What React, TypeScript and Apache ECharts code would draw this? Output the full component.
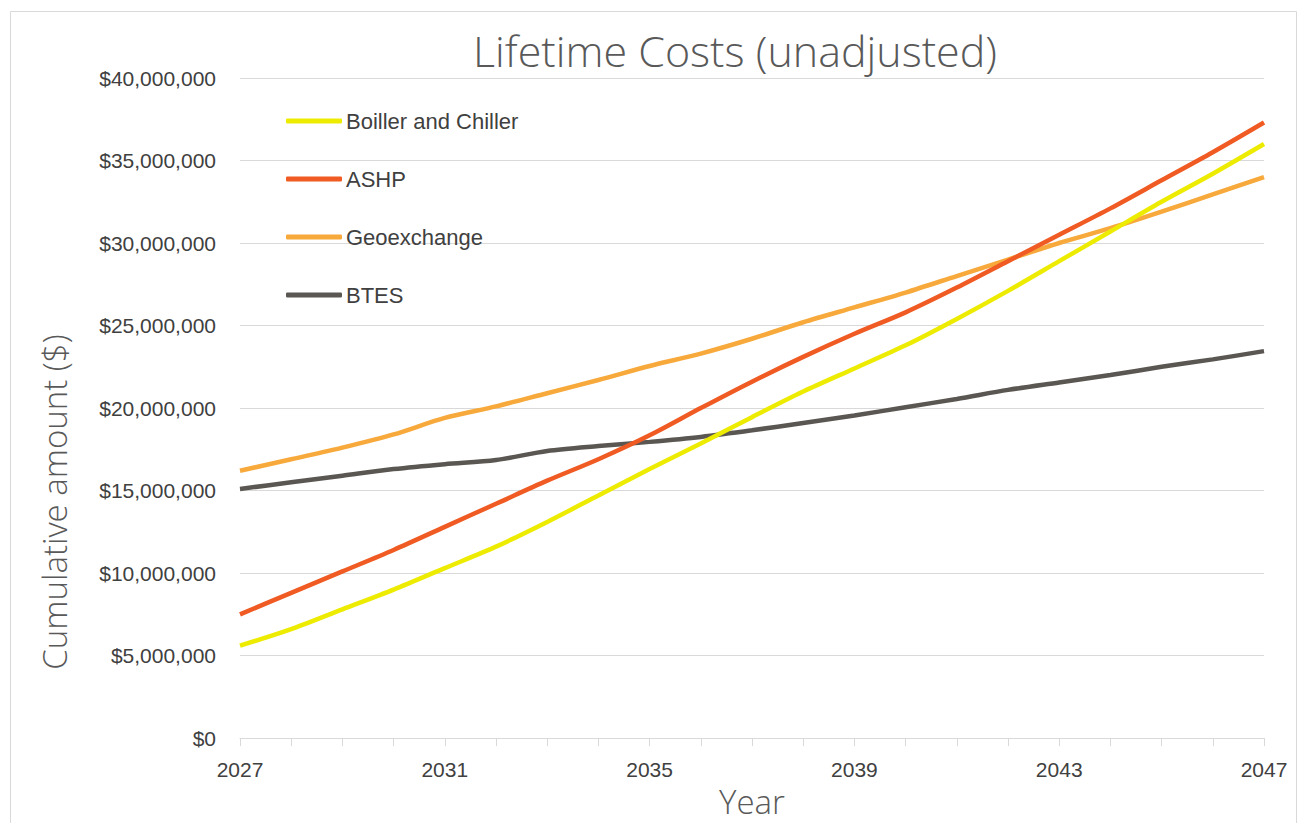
import React, { useEffect, useRef } from "react";
import * as echarts from "echarts";

const years = ["2027","2028","2029","2030","2031","2032","2033","2034","2035","2036","2037","2038","2039","2040","2041","2042","2043","2044","2045","2046","2047"];
const boilerChiller = [5.6, 6.6, 7.8, 9.0, 10.3, 11.6, 13.1, 14.7, 16.3, 17.85, 19.45, 21.0, 22.4, 23.8, 25.4, 27.1, 28.9, 30.7, 32.5, 34.2, 36.0];
const ashp = [7.5, 8.8, 10.1, 11.4, 12.8, 14.2, 15.6, 16.9, 18.35, 20.0, 21.6, 23.1, 24.5, 25.8, 27.3, 28.9, 30.5, 32.1, 33.8, 35.5, 37.3];
const geoexchange = [16.2, 16.9, 17.6, 18.4, 19.4, 20.1, 20.9, 21.7, 22.55, 23.3, 24.2, 25.2, 26.1, 27.0, 28.0, 29.0, 30.0, 30.9, 31.9, 32.95, 34.0];
const btes = [15.1, 15.5, 15.9, 16.3, 16.6, 16.85, 17.4, 17.7, 17.95, 18.25, 18.65, 19.1, 19.55, 20.05, 20.55, 21.1, 21.55, 22.0, 22.5, 22.95, 23.45];
const seriesNames = ["Boiller and Chiller", "ASHP", "Geoexchange", "BTES"];
const seriesColors = ["#EDEB00", "#F05A23", "#F7A93B", "#5A5753"];

const M = 1000000;

export default function App() {
  const ref = useRef<HTMLDivElement>(null);
  useEffect(() => {
    if (!ref.current) return;
    const chart = echarts.init(ref.current, null, { renderer: "svg" });
    const labelFont = "'Liberation Sans', Arial, sans-serif";
    const lightFont = "'Open Sans', Lato, sans-serif";
    const dataSets = [boilerChiller, ashp, geoexchange, btes];
    chart.setOption({
      animation: false,
      backgroundColor: "#ffffff",
      graphic: [
        {
          type: "rect",
          shape: { x: 10.5, y: 11.5, width: 1286, height: 830 },
          style: { fill: "none", stroke: "#d9d9d9", lineWidth: 1 },
          silent: true,
        },
        {
          type: "text",
          x: 735,
          y: 50,
          style: {
            text: "Lifetime Costs (unadjusted)",
            fontFamily: lightFont,
            fontWeight: 300,
            fontSize: 43,
            fill: "#595959",
            textAlign: "center",
            textVerticalAlign: "middle",
          },
        },
        {
          type: "text",
          x: 54,
          y: 502,
          rotation: Math.PI / 2,
          style: {
            text: "Cumulative amount ($)",
            fontFamily: lightFont,
            fontWeight: 300,
            fontSize: 33,
            fill: "#595959",
            textAlign: "center",
            textVerticalAlign: "middle",
          },
        },
      ],
      legend: {
        orient: "vertical",
        left: 281,
        top: 105,
        itemGap: 36,
        itemWidth: 56,
        itemHeight: 5,
        icon: "roundRect",
        data: seriesNames,
        textStyle: { fontFamily: labelFont, fontSize: 22, lineHeight: 22, color: "#404040", padding: [0, 0, 0, -1] },
      },
      grid: { left: 240, right: 42, top: 78, bottom: 76, containLabel: false },
      xAxis: {
        type: "category",
        data: years,
        boundaryGap: false,
        name: "Year",
        nameLocation: "middle",
        nameGap: 44,
        nameTextStyle: { fontFamily: lightFont, fontWeight: 300, fontSize: 33, color: "#595959" },
        axisLine: { lineStyle: { color: "#d9d9d9", width: 1 } },
        axisTick: { show: true, interval: 0, length: 8, lineStyle: { color: "#d9d9d9" } },
        axisLabel: { interval: 3, margin: 21, fontFamily: labelFont, fontSize: 21, color: "#404040" },
        splitLine: { show: false },
      },
      yAxis: {
        type: "value",
        min: 0,
        max: 40 * M,
        interval: 5 * M,
        axisLine: { show: false },
        axisTick: { show: false },
        axisLabel: {
          margin: 24,
          fontFamily: labelFont,
          fontSize: 21,
          color: "#404040",
          formatter: (v: number) => "$" + Math.round(v).toLocaleString("en-US"),
        },
        splitLine: { lineStyle: { color: "#d9d9d9", width: 1 } },
      },
      series: seriesNames.map((name, i) => ({
        name,
        type: "line",
        data: dataSets[i].map((v) => v * M),
        symbol: "none",
        smooth: 0.3,
        lineStyle: { color: seriesColors[i], width: 4.5 },
        itemStyle: { color: seriesColors[i] },
        z: 10 - i,
      })),
    });
    return () => chart.dispose();
  }, []);
  return (
    <div
      ref={ref}
      style={{ position: "fixed", left: 0, top: 0, width: 1306, height: 823, background: "#fff" }}
    />
  );
}
